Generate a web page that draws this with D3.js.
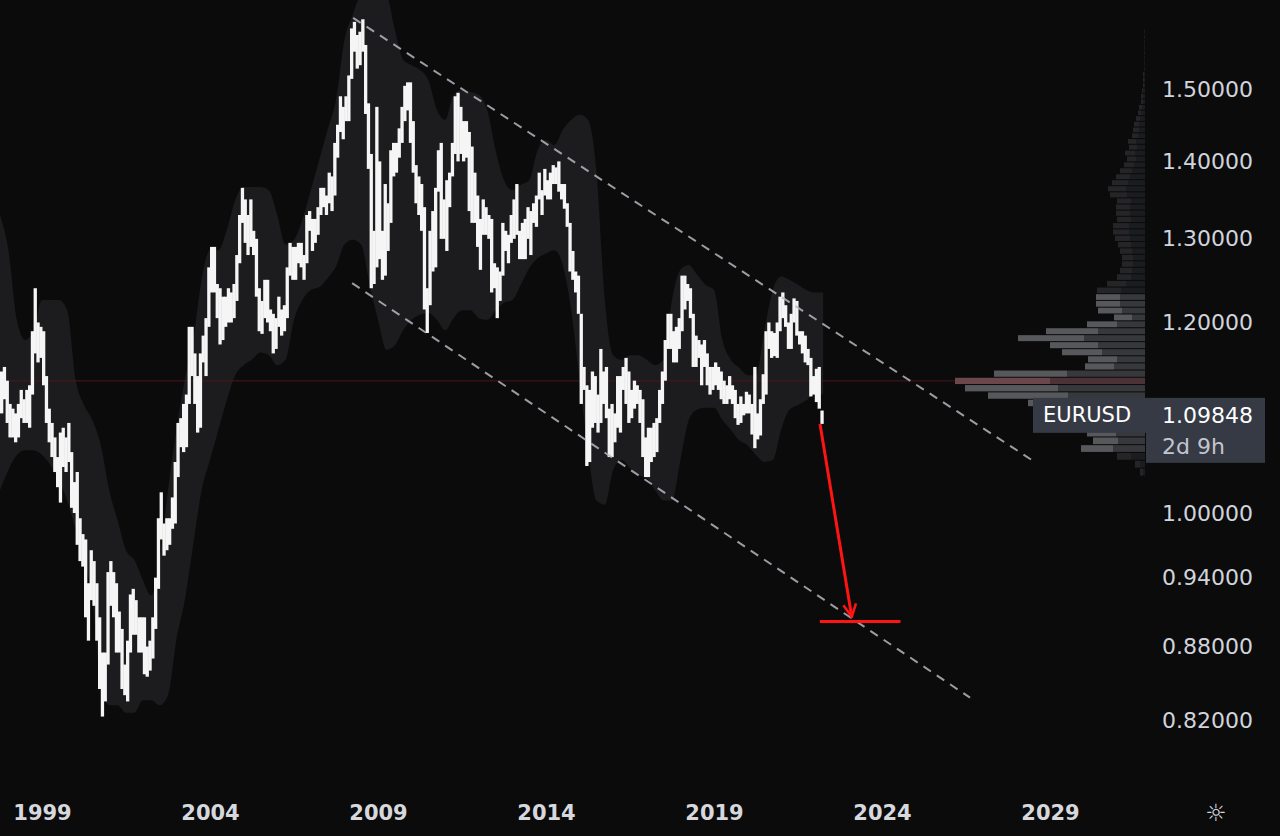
<!DOCTYPE html>
<html>
<head>
<meta charset="utf-8">
<script src="https://cdn.jsdelivr.net/npm/d3@7"></script>
<style>
    html, body { margin: 0; padding: 0; background: #0b0b0b; }
    svg { display: block; }
    text { font-family: "DejaVu Sans", "Open Sans", sans-serif; }
</style>
</head>
<body>
<svg id="chart" width="1280" height="836"></svg>
<script>

// ---- data ----
const symbol = 'EURUSD';
const lastPrice = 1.09848;
const countdown = '2d 9h';

// monthly bars, first one is Oct 1997 (decimal year)
const firstMonth = 1997.75;
const monthHigh = [
    1.145, 1.150, 1.135,
    1.110, 1.105, 1.100, 1.110, 1.125, 1.115, 1.125, 1.130, 1.190, 1.240, 1.200, 1.195,
    1.190, 1.140, 1.105, 1.090, 1.075, 1.055, 1.080, 1.085, 1.075, 1.090, 1.060, 1.030,
    1.040, 0.995, 0.980, 0.975, 0.935, 0.965, 0.955, 0.935, 0.905, 0.875, 0.875, 0.945,
    0.955, 0.945, 0.935, 0.910, 0.895, 0.865, 0.885, 0.925, 0.930, 0.920, 0.905, 0.905,
    0.905, 0.880, 0.885, 0.905, 0.940, 0.995, 1.020, 0.990, 0.995, 0.995, 1.015, 1.050,
    1.090, 1.095, 1.110, 1.120, 1.195, 1.195, 1.165, 1.140, 1.165, 1.185, 1.205, 1.265,
    1.290, 1.290, 1.245, 1.240, 1.230, 1.230, 1.240, 1.235, 1.245, 1.280, 1.330, 1.365,
    1.350, 1.330, 1.350, 1.310, 1.300, 1.240, 1.225, 1.250, 1.250, 1.215, 1.210, 1.205,
    1.230, 1.215, 1.220, 1.265, 1.295, 1.290, 1.290, 1.295, 1.295, 1.280, 1.330, 1.335,
    1.325, 1.325, 1.340, 1.365, 1.365, 1.355, 1.385, 1.380, 1.425, 1.450, 1.490, 1.475,
    1.490, 1.520, 1.590, 1.600, 1.580, 1.585, 1.604, 1.565, 1.480, 1.410, 1.310, 1.475,
    1.400, 1.310, 1.370, 1.345, 1.415, 1.425, 1.425, 1.445, 1.475, 1.505, 1.510, 1.510,
    1.455, 1.395, 1.380, 1.370, 1.340, 1.240, 1.310, 1.335, 1.365, 1.415, 1.425, 1.350,
    1.375, 1.385, 1.425, 1.490, 1.495, 1.475, 1.455, 1.455, 1.440, 1.420, 1.385, 1.355,
    1.325, 1.350, 1.340, 1.330, 1.325, 1.270, 1.265, 1.260, 1.320, 1.310, 1.305, 1.330,
    1.350, 1.370, 1.310, 1.320, 1.325, 1.340, 1.335, 1.345, 1.355, 1.385, 1.362, 1.390,
    1.375, 1.385, 1.395, 1.392, 1.400, 1.370, 1.370, 1.345, 1.320, 1.285, 1.260, 1.255,
    1.210, 1.150, 1.130, 1.125, 1.145, 1.140, 1.120, 1.170, 1.145, 1.150, 1.105, 1.110,
    1.100, 1.140, 1.140, 1.150, 1.160, 1.145, 1.125, 1.135, 1.130, 1.125, 1.115, 1.075,
    1.085, 1.085, 1.090, 1.095, 1.125, 1.145, 1.180, 1.210, 1.210, 1.190, 1.195, 1.205,
    1.255, 1.255, 1.245, 1.240, 1.210, 1.185, 1.180, 1.175, 1.180, 1.165, 1.150, 1.150,
    1.155, 1.150, 1.145, 1.135, 1.130, 1.140, 1.130, 1.125, 1.110, 1.118, 1.110, 1.123,
    1.120, 1.110, 1.150, 1.100, 1.115, 1.142, 1.190, 1.200, 1.190, 1.188, 1.200, 1.230,
    1.235, 1.220, 1.200, 1.210, 1.228, 1.225, 1.190, 1.190, 1.185, 1.170, 1.160, 1.140,
    1.148, 1.150, 1.103
];
const monthLow = [
    1.100, 1.115, 1.090,
    1.075, 1.075, 1.070, 1.075, 1.095, 1.090, 1.090, 1.085, 1.120, 1.165, 1.155, 1.160,
    1.130, 1.090, 1.070, 1.055, 1.040, 1.025, 1.010, 1.045, 1.040, 1.050, 1.005, 1.000,
    0.970, 0.955, 0.950, 0.905, 0.885, 0.920, 0.915, 0.885, 0.845, 0.823, 0.835, 0.865,
    0.915, 0.905, 0.875, 0.875, 0.845, 0.840, 0.835, 0.875, 0.890, 0.890, 0.875, 0.875,
    0.857, 0.855, 0.860, 0.870, 0.895, 0.930, 0.975, 0.960, 0.965, 0.970, 0.985, 0.990,
    1.035, 1.065, 1.060, 1.065, 1.110, 1.140, 1.110, 1.080, 1.085, 1.155, 1.140, 1.195,
    1.235, 1.235, 1.205, 1.175, 1.180, 1.195, 1.200, 1.200, 1.205, 1.225, 1.270, 1.320,
    1.295, 1.280, 1.290, 1.280, 1.230, 1.190, 1.187, 1.205, 1.200, 1.190, 1.165, 1.170,
    1.195, 1.185, 1.190, 1.205, 1.255, 1.250, 1.250, 1.270, 1.265, 1.250, 1.270, 1.310,
    1.285, 1.295, 1.305, 1.330, 1.340, 1.330, 1.345, 1.335, 1.355, 1.405, 1.440, 1.430,
    1.455, 1.455, 1.515, 1.555, 1.530, 1.535, 1.555, 1.465, 1.390, 1.240, 1.245, 1.265,
    1.275, 1.250, 1.255, 1.285, 1.320, 1.380, 1.385, 1.405, 1.425, 1.455, 1.470, 1.425,
    1.385, 1.345, 1.330, 1.310, 1.215, 1.188, 1.220, 1.260, 1.265, 1.360, 1.300, 1.300,
    1.285, 1.340, 1.380, 1.410, 1.400, 1.410, 1.400, 1.405, 1.335, 1.320, 1.320, 1.290,
    1.262, 1.305, 1.305, 1.300, 1.235, 1.240, 1.205, 1.225, 1.255, 1.285, 1.270, 1.295,
    1.300, 1.305, 1.275, 1.275, 1.275, 1.300, 1.280, 1.320, 1.315, 1.350, 1.330, 1.355,
    1.350, 1.350, 1.370, 1.370, 1.360, 1.350, 1.338, 1.315, 1.260, 1.250, 1.235, 1.210,
    1.110, 1.125, 1.046, 1.050, 1.085, 1.090, 1.080, 1.090, 1.110, 1.095, 1.055, 1.055,
    1.070, 1.085, 1.080, 1.125, 1.110, 1.090, 1.095, 1.105, 1.110, 1.090, 1.055, 1.035,
    1.035, 1.050, 1.055, 1.060, 1.090, 1.110, 1.135, 1.170, 1.170, 1.155, 1.155, 1.170,
    1.190, 1.215, 1.225, 1.205, 1.150, 1.150, 1.160, 1.130, 1.150, 1.130, 1.120, 1.125,
    1.130, 1.125, 1.115, 1.110, 1.110, 1.115, 1.110, 1.095, 1.088, 1.090, 1.098, 1.100,
    1.100, 1.078, 1.064, 1.073, 1.077, 1.110, 1.120, 1.170, 1.160, 1.162, 1.160, 1.190,
    1.205, 1.195, 1.170, 1.170, 1.200, 1.185, 1.175, 1.165, 1.155, 1.152, 1.118, 1.120,
    1.112, 1.105, 1.089
];

// grey envelope, one point per quarter from Oct 1997
const bandFirst = 1997.75;
const bandUpper = [
    1.330, 1.286, 1.203, 1.180, 1.191, 1.226, 1.226, 1.226, 1.214, 1.136,
    1.109, 1.093, 1.067, 1.022, 0.993, 0.965, 0.956, 0.938, 0.924, 0.956,
    1.022, 1.083, 1.136, 1.180, 1.250, 1.286, 1.286, 1.311, 1.349, 1.366,
    1.366, 1.366, 1.362, 1.330, 1.293, 1.299, 1.324, 1.362, 1.402, 1.443,
    1.485, 1.572, 1.611, 1.640, 1.640, 1.640, 1.640, 1.588, 1.543, 1.535,
    1.528, 1.513, 1.471, 1.457, 1.492, 1.499, 1.496, 1.492, 1.471, 1.415,
    1.375, 1.362, 1.369, 1.375, 1.415, 1.429, 1.422, 1.443, 1.457, 1.464,
    1.457, 1.388, 1.226, 1.163, 1.158, 1.163, 1.163, 1.158, 1.152, 1.158,
    1.226, 1.262, 1.268, 1.256, 1.244, 1.238, 1.180, 1.158, 1.149, 1.141,
    1.141, 1.191, 1.238, 1.254, 1.250, 1.244, 1.238, 1.235, 1.235
];
const bandLower = [
    1.022, 1.042, 1.057, 1.062, 1.062, 1.057, 1.047, 1.032, 1.012, 0.984,
    0.956, 0.920, 0.850, 0.832, 0.832, 0.826, 0.826, 0.836, 0.836, 0.832,
    0.840, 0.886, 0.920, 0.970, 1.022, 1.052, 1.083, 1.114, 1.141, 1.152,
    1.158, 1.166, 1.163, 1.152, 1.158, 1.203, 1.226, 1.238, 1.241, 1.252,
    1.266, 1.293, 1.299, 1.293, 1.244, 1.203, 1.169, 1.174, 1.191, 1.203,
    1.209, 1.211, 1.203, 1.191, 1.205, 1.214, 1.214, 1.205, 1.203, 1.214,
    1.223, 1.226, 1.244, 1.264, 1.276, 1.282, 1.286, 1.268, 1.214, 1.136,
    1.062, 1.012, 1.008, 1.042, 1.052, 1.044, 1.037, 1.034, 1.022, 1.012,
    1.012, 1.052, 1.093, 1.104, 1.106, 1.106, 1.093, 1.083, 1.072, 1.067,
    1.057, 1.050, 1.052, 1.083, 1.104, 1.109, 1.114, 1.120, 1.120
];

// visible range volume profile, rows of equal price height from vpFirst
const vpFirst = 1.036;
const vpRow = 0.0079;
const vpLight = [
    3, 5, 14, 32, 25, 29, 30, 34, 40, 57,
    80, 93, 95, 73, 29, 29, 40, 48, 66, 52,
    30, 18, 24, 24, 24, 24, 19, 14, 12, 11,
    11, 12, 13, 15, 16, 16, 14, 14, 14, 14,
    17, 18, 16, 14, 12, 10, 9, 10, 8, 8,
    6, 6, 5, 4, 3, 3, 2, 2, 1, 1,
    1, 1, 0.5, 0.5, 0.5, 0.5, 0.5, 0.5, 0.5, 0.5
];
const vpDark = [
    2, 5, 14, 32, 27, 29, 30, 36, 40, 60,
    77, 87, 95, 78, 31, 28, 43, 47, 61, 47,
    28, 13, 23, 25, 25, 24, 19, 14, 13, 12,
    12, 13, 14, 15, 16, 16, 14, 15, 15, 14,
    18, 19, 17, 15, 13, 11, 9, 10, 8, 9,
    7, 6, 6, 5, 4, 3, 2, 2, 2, 1,
    1, 1, 0.5, 0.5, 0.5, 0.5, 0.5, 0.5, 0.5, 0.5
];
const valueArea = [1.060, 1.234];

const priceTicks = [0.82, 0.88, 0.94, 1.00, 1.10, 1.20, 1.30, 1.40, 1.50];
const yearTicks = [1999, 2004, 2009, 2014, 2019, 2024, 2029];

// drawings: [decimal year, price]
const channelTop = [[2008.26, 1.606], [2028.55, 1.050]];
const channelBottom = [[2008.23, 1.246], [2026.62, 0.838]];
const arrowLine = [[2022.155, 1.0888], [2023.1, 0.9053]];
const targetLine = [[2022.15, 0.9014], [2024.55, 0.9014]];

// ---- layout ----
const width = 1280, height = 836;
const plotRight = 1145, plotBottom = 780;

const svg = d3.select('#chart');

svg.append('rect')
    .attr('width', width)
    .attr('height', height)
    .attr('fill', '#0b0b0b');

const x = d3.scaleLinear()
    .domain([1997.75, 1997.75 + plotRight / 33.6])
    .range([0, plotRight]);

const y = d3.scaleLog()
    .domain([1.0, 1.5])
    .range([513, 89.3]);

svg.append('defs').append('clipPath')
    .attr('id', 'plot')
    .append('rect')
    .attr('width', plotRight)
    .attr('height', plotBottom);

svg.select('defs').append('marker')
    .attr('id', 'head')
    .attr('viewBox', '0 0 10 10')
    .attr('refX', 9)
    .attr('refY', 5)
    .attr('markerUnits', 'userSpaceOnUse')
    .attr('markerWidth', 16)
    .attr('markerHeight', 16)
    .attr('orient', 'auto')
    .append('path')
    .attr('d', 'M1,1 L9,5 L1,9')
    .attr('fill', 'none')
    .attr('stroke', '#ff1414')
    .attr('stroke-width', 1.6);

const plot = svg.append('g').attr('clip-path', 'url(#plot)');

// envelope
const band = bandUpper.map((u, i) => ({t: bandFirst + i * 0.25, hi: u, lo: bandLower[i]}));

plot.append('path')
    .datum(band)
    .attr('fill', '#1c1c1f')
    .attr('d', d3.area()
        .curve(d3.curveMonotoneX)
        .x(d => x(d.t))
        .y0(d => y(d.lo))
        .y1(d => y(d.hi)));

// volume profile rows
const rows = vpLight.map((a, i) => {
    const lo = vpFirst + i * vpRow;
    return {lo, hi: lo + vpRow, a, b: vpDark[i], mid: lo + vpRow / 2};
});
const poc = rows.reduce((m, r) => (r.a + r.b > m.a + m.b ? r : m), rows[0]);

const vpX = d3.scaleLinear()
    .domain([0, poc.a + poc.b])
    .range([0, 190]);

// point of control line
plot.append('line')
    .attr('x1', 0)
    .attr('x2', plotRight)
    .attr('y1', y(poc.mid))
    .attr('y2', y(poc.mid))
    .attr('stroke', '#4a161c')
    .attr('stroke-width', 1);

// price bars, slightly overlapping so the band reads as one jagged stroke
const monthW = x(firstMonth + 1 / 12) - x(firstMonth);

plot.append('g')
    .selectAll('rect')
    .data(monthHigh)
    .join('rect')
    .attr('x', (d, i) => x(firstMonth + i / 12))
    .attr('width', monthW + 0.5)
    .attr('y', d => y(d))
    .attr('height', (d, i) => Math.max(1, y(monthLow[i]) - y(d)))
    .attr('fill', '#f5f5f5');

const vp = plot.append('g');

rows.forEach(r => {
    const inVA = r.mid >= valueArea[0] && r.mid <= valueArea[1];
    const isPoc = r === poc;
    const top = y(r.hi) + 0.5;
    const h = Math.max(1, y(r.lo) - y(r.hi) - 1);
    const wB = vpX(r.b);
    const wAll = vpX(r.a + r.b);

    vp.append('rect')
        .attr('x', plotRight - wAll)
        .attr('width', wAll - wB)
        .attr('y', top)
        .attr('height', h)
        .attr('fill', isPoc ? '#6b474c' : inVA ? '#57585c' : '#252528');

    vp.append('rect')
        .attr('x', plotRight - wB)
        .attr('width', wB)
        .attr('y', top)
        .attr('height', h)
        .attr('fill', isPoc ? '#4a3237' : inVA ? '#37383c' : '#1b1c1f');
});

// channel
const seg = d3.line().x(d => x(d[0])).y(d => y(d[1]));

[channelTop, channelBottom].forEach(c => {
    plot.append('path')
        .attr('d', seg(c))
        .attr('fill', 'none')
        .attr('stroke', '#b4b7bf')
        .attr('stroke-opacity', 0.85)
        .attr('stroke-width', 2)
        .attr('stroke-dasharray', '9 7');
});

// target
plot.append('path')
    .attr('d', seg(arrowLine))
    .attr('fill', 'none')
    .attr('stroke', '#ff1414')
    .attr('stroke-width', 3)
    .attr('marker-end', 'url(#head)');

plot.append('path')
    .attr('d', seg(targetLine))
    .attr('fill', 'none')
    .attr('stroke', '#ff1414')
    .attr('stroke-width', 3);

// ---- axes ----
const yAxis = svg.append('g')
    .attr('transform', `translate(1162,0)`)
    .call(d3.axisRight(y)
        .tickValues(priceTicks)
        .tickFormat(d3.format('.5f'))
        .tickSize(0)
        .tickPadding(0));

yAxis.select('.domain').remove();
yAxis.selectAll('text')
    .attr('fill', '#d1d4dc')
    .attr('font-size', 22)
    .attr('font-family', '"DejaVu Sans", sans-serif');

const xAxis = svg.append('g')
    .attr('transform', `translate(0,812)`)
    .call(d3.axisBottom(x)
        .tickValues(yearTicks)
        .tickFormat(d3.format('d'))
        .tickSize(0)
        .tickPadding(0));

xAxis.select('.domain').remove();
xAxis.selectAll('text')
    .attr('y', 0)
    .attr('dy', '0.36em')
    .attr('fill', '#d6d8de')
    .attr('font-size', 21)
    .attr('font-weight', 'bold')
    .attr('font-family', '"DejaVu Sans", sans-serif');

// last price label
const yLast = y(lastPrice);

const tag = svg.append('g');

tag.append('rect')
    .attr('x', 1033)
    .attr('y', yLast - 17)
    .attr('width', 113)
    .attr('height', 35)
    .attr('fill', '#363a45');

tag.append('rect')
    .attr('x', 1146)
    .attr('y', yLast - 17)
    .attr('width', 119)
    .attr('height', 65)
    .attr('fill', '#363a45');

tag.append('text')
    .attr('x', 1043)
    .attr('y', yLast)
    .attr('dy', '0.35em')
    .attr('fill', '#ffffff')
    .attr('font-size', 21)
    .text(symbol);

tag.append('text')
    .attr('x', 1162)
    .attr('y', yLast)
    .attr('dy', '0.35em')
    .attr('fill', '#ffffff')
    .attr('font-size', 22)
    .text(d3.format('.5f')(lastPrice));

tag.append('text')
    .attr('x', 1162)
    .attr('y', yLast + 31)
    .attr('dy', '0.35em')
    .attr('fill', '#c3c6ce')
    .attr('font-size', 22)
    .text(countdown);

svg.append('text')
    .attr('x', 1216)
    .attr('y', 813)
    .attr('dy', '0.35em')
    .attr('text-anchor', 'middle')
    .attr('fill', '#d1d4dc')
    .attr('font-size', 24)
    .text('\u263C');

</script>
</body>
</html>
